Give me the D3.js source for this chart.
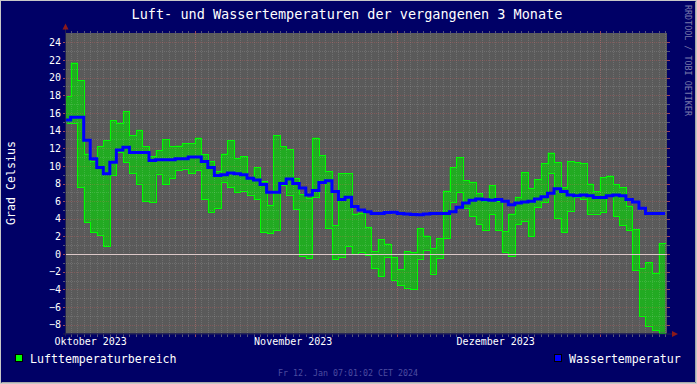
<!DOCTYPE html>
<html>
<head>
<meta charset="utf-8">
<script src="https://cdn.jsdelivr.net/npm/d3@7"></script>
<style>
  body { margin: 0; background: #000066; }
  text { font-family: "DejaVu Sans Mono", monospace; }
</style>
</head>
<body>
<div id="chart"></div>
<script>
// time range of the graph
const startTime = new Date(2023, 9, 12, 7, 1, 2);
const endTime = new Date(2024, 0, 12, 7, 1, 2);

// daily values, first entry is the partial day Oct 12, last one Jan 11
const airMax = [17.9, 21.7, 19.7, 11.4, 10.5, 12.2, 12.9, 15.2, 14.9, 16.2,
  13.5, 14.1, 12.2, 11.1, 11.8, 13.0, 12.2, 12.3, 12.6, 12.6,
  13.2, 11.3, 10.5, 9.4, 11.4, 12.9, 10.9, 11.1, 8.6, 9.85,
  8.3, 5.6, 13.5, 12.2, 11.9, 8.6, 6.8, 6.4, 13.2, 11.2,
  9.4, 3.3, 9.2, 9.2, 4.6, 4.7, 3.1, 0.3, 1.7, 1.2,
  -0.3, -1.7, 0.3, 0.2, 2.9, 2.1, 0.7, 1.8, 7.2, 9.85,
  11.0, 8.4, 8.2, 6.9, 6.0, 7.8, 6.0, 2.6, 4.6, 6.5,
  9.3, 7.5, 8.5, 10.3, 11.5, 10.4, 7.6, 10.5, 10.4, 10.3,
  8.0, 7.1, 8.7, 8.9, 7.9, 7.6, 5.5, 2.8, -1.6, -0.9,
  -2.1, 1.25];
const airMin = [14.9, 14.9, 7.6, 3.6, 2.5, 2.2, 0.9, 9.0, 11.6, 10.4,
  9.2, 8.0, 6.0, 5.9, 9.1, 7.9, 8.6, 9.5, 9.7, 9.2,
  9.5, 6.2, 4.8, 5.2, 8.2, 7.6, 7.0, 7.2, 6.75, 6.2,
  2.5, 2.4, 2.7, 7.8, 6.75, 5.1, -0.2, -0.45, 6.5, 8.1,
  2.9, -0.6, -0.3, 0.9, 0.0, 0.2, -0.1, -1.6, -2.5, -0.3,
  -2.9, -3.5, -3.8, -4.0, -0.5, 0.5, -2.2, -0.45, 1.8, 5.9,
  7.0, 5.2, 4.3, 3.4, 2.75, 4.5, 2.7, 0.2, -0.2, 3.4,
  3.7, 2.0, 5.3, 5.9, 9.2, 4.1, 2.5, 4.9, 6.5, 6.2,
  4.6, 4.6, 4.8, 6.7, 4.3, 3.3, 2.7, -1.85, -7.0, -8.1,
  -8.6, -8.9];
const water = [15.2, 15.5, 15.5, 12.9, 10.8, 9.8, 9.1, 10.4, 11.8, 12.1,
  11.5, 11.5, 11.5, 10.6, 10.7, 10.7, 10.7, 10.8, 10.8, 11.0,
  11.0, 10.5, 9.8, 8.9, 9.0, 9.2, 9.1, 9.0, 8.6, 8.4,
  7.9, 7.0, 7.0, 8.0, 8.5, 8.0, 7.5, 6.7, 7.2, 8.1,
  8.3, 7.1, 6.2, 6.45, 5.4, 5.0, 4.8, 4.6, 4.6, 4.7,
  4.75, 4.6, 4.55, 4.5, 4.45, 4.55, 4.6, 4.6, 4.6, 4.8,
  5.3, 5.8, 6.1, 6.25, 6.15, 6.1, 6.2, 6.0, 5.6, 5.8,
  5.9, 6.0, 6.25, 6.5, 6.9, 7.4, 7.1, 6.7, 6.6, 6.7,
  6.6, 6.4, 6.4, 6.6, 6.7, 6.6, 6.2, 5.9, 5.2, 4.6,
  4.6, 4.6];

const yTickLabels = [-8, -6, -4, -2, 0, 2, 4, 6, 8, 10, 12, 14, 16, 18, 20, 22, 24];
const monthLabels = ["Oktober 2023", "November 2023", "Dezember 2023"];
const monthLabelDates = [new Date(2023, 9, 16), new Date(2023, 10, 16), new Date(2023, 11, 17)];
const majorGridDates = [new Date(2023, 10, 1), new Date(2023, 11, 2), new Date(2024, 0, 2)];

const titleText = "Luft- und Wassertemperaturen der vergangenen 3 Monate";
const legendAir = "Lufttemperaturbereich";
const legendWater = "Wassertemperatur";
const footerText = "Fr 12. Jan 07:01:02 CET 2024";

const W = 697, H = 384;
const plot = { left: 66, right: 667, top: 33.5, bottom: 333.5 };
const minorCol = "rgba(255,255,255,0.13)";
const majorCol = "rgba(255,90,90,0.24)";

const svg = d3.select("#chart").append("svg")
  .attr("width", W)
  .attr("height", H)
  .style("display", "block");

// background + shaded frame
svg.append("rect").attr("width", W).attr("height", H).attr("fill", "#000066");
svg.append("rect").attr("x", 0.5).attr("y", 0.5).attr("width", W - 1).attr("height", H - 1)
  .attr("fill", "none").attr("stroke", "#c8c8c8");
svg.append("path").attr("d", `M1.5,${H - 1.5}H${W - 1.5}V1.5`).attr("stroke", "#a8a8a8").attr("fill", "none");

const x = d3.scaleTime().domain([startTime, endTime]).range([plot.left, plot.right]);
const y = d3.scaleLinear().domain([-9, 25]).range([plot.bottom, plot.top]);

// canvas
svg.append("rect")
  .attr("x", plot.left).attr("y", plot.top - 0.5)
  .attr("width", plot.right - plot.left).attr("height", plot.bottom - plot.top + 0.5)
  .attr("fill", "#5a5a5a");

// build rows: one per day, plus an end point so the last step has width
const dayStarts = [startTime].concat(d3.timeDay.range(new Date(2023, 9, 13), new Date(2024, 0, 12)));
let rows = dayStarts.map((d, i) => ({ date: d, max: airMax[i], min: airMin[i], water: water[i] }));
const last = rows[rows.length - 1];
rows.push({ date: new Date(2024, 0, 12), max: last.max, min: last.min, water: last.water });

// air temperature range
svg.append("path")
  .datum(rows)
  .attr("fill", "#22aa22")
  .attr("stroke", "none")
  .attr("d", d3.area().curve(d3.curveStepAfter)
    .x(d => x(d.date))
    .y0(d => y(d.min))
    .y1(d => y(d.max)));

const grid = svg.append("g").attr("shape-rendering", "crispEdges");

// minor grid: every degree, every day
const minorY = d3.range(-8, 25, 1).filter(v => v % 2 !== 0);
grid.selectAll(".hmin").data(minorY).enter().append("line")
  .attr("x1", plot.left).attr("x2", plot.right)
  .attr("y1", d => Math.round(y(d)) + 0.5).attr("y2", d => Math.round(y(d)) + 0.5)
  .attr("stroke", minorCol).attr("stroke-dasharray", "1,1");

const days = d3.timeDay.range(d3.timeDay.ceil(startTime), endTime);
grid.selectAll(".vmin").data(days).enter().append("line")
  .attr("x1", d => Math.round(x(d)) + 0.5).attr("x2", d => Math.round(x(d)) + 0.5)
  .attr("y1", plot.top).attr("y2", plot.bottom)
  .attr("stroke", minorCol).attr("stroke-dasharray", "1,1");

// major grid
grid.selectAll(".hmaj").data(yTickLabels).enter().append("line")
  .attr("x1", plot.left).attr("x2", plot.right)
  .attr("y1", d => Math.round(y(d)) + 0.5).attr("y2", d => Math.round(y(d)) + 0.5)
  .attr("stroke", majorCol).attr("stroke-dasharray", "1,1");
grid.selectAll(".vmaj").data(majorGridDates).enter().append("line")
  .attr("x1", d => Math.round(x(d)) + 0.5).attr("x2", d => Math.round(x(d)) + 0.5)
  .attr("y1", plot.top).attr("y2", plot.bottom)
  .attr("stroke", majorCol).attr("stroke-dasharray", "1,1");

// little ticks outside the canvas
const ticks = svg.append("g").attr("shape-rendering", "crispEdges");
const tickCol = d => d % 2 === 0 ? "#9a4a5a" : "#55557a";
ticks.selectAll(".tl").data(d3.range(-8, 25, 1)).enter().append("line")
  .attr("x1", plot.left - 3).attr("x2", plot.left)
  .attr("y1", d => Math.round(y(d)) + 0.5).attr("y2", d => Math.round(y(d)) + 0.5)
  .attr("stroke", tickCol);
ticks.selectAll(".tr").data(d3.range(-8, 25, 1)).enter().append("line")
  .attr("x1", plot.right).attr("x2", plot.right + 3)
  .attr("y1", d => Math.round(y(d)) + 0.5).attr("y2", d => Math.round(y(d)) + 0.5)
  .attr("stroke", tickCol);
ticks.selectAll(".tt").data(days).enter().append("line")
  .attr("x1", d => Math.round(x(d)) + 0.5).attr("x2", d => Math.round(x(d)) + 0.5)
  .attr("y1", plot.top - 3).attr("y2", plot.top)
  .attr("stroke", "#55557a");
ticks.selectAll(".tb").data(days).enter().append("line")
  .attr("x1", d => Math.round(x(d)) + 0.5).attr("x2", d => Math.round(x(d)) + 0.5)
  .attr("y1", plot.bottom).attr("y2", plot.bottom + 3)
  .attr("stroke", "#55557a");
ticks.selectAll(".tbm").data(majorGridDates).enter().append("line")
  .attr("x1", d => Math.round(x(d)) + 0.5).attr("x2", d => Math.round(x(d)) + 0.5)
  .attr("y1", plot.bottom).attr("y2", plot.bottom + 3)
  .attr("stroke", "#9a4a5a");
ticks.selectAll(".ttm").data(majorGridDates).enter().append("line")
  .attr("x1", d => Math.round(x(d)) + 0.5).attr("x2", d => Math.round(x(d)) + 0.5)
  .attr("y1", plot.top - 3).attr("y2", plot.top)
  .attr("stroke", "#9a4a5a");

// outline of the range
const stepLine = key => d3.line().curve(d3.curveStepAfter)
  .x(d => Math.round(x(d.date)) + 0.5)
  .y(d => Math.round(y(d[key])) + 0.5);

svg.append("path").datum(rows)
  .attr("fill", "none").attr("stroke", "#00ff00").attr("stroke-width", 1)
  .attr("shape-rendering", "crispEdges")
  .attr("d", stepLine("max"));
svg.append("path").datum(rows)
  .attr("fill", "none").attr("stroke", "#00ff00").attr("stroke-width", 1)
  .attr("shape-rendering", "crispEdges")
  .attr("d", stepLine("min"));

// zero line
svg.append("line")
  .attr("x1", plot.left).attr("x2", plot.right)
  .attr("y1", Math.round(y(0)) + 0.5).attr("y2", Math.round(y(0)) + 0.5)
  .attr("stroke", "#dcc8c8").attr("shape-rendering", "crispEdges");

// water temperature
svg.append("path").datum(rows)
  .attr("fill", "none").attr("stroke", "#0000ff").attr("stroke-width", 3)
  .attr("stroke-linejoin", "miter")
  .attr("d", d3.line().curve(d3.curveStepAfter)
    .x(d => x(d.date))
    .y(d => y(d.water)));

// axis lines and arrows
svg.append("line").attr("x1", plot.left - 0.5).attr("x2", plot.left - 0.5)
  .attr("y1", plot.bottom + 3).attr("y2", plot.top - 5)
  .attr("stroke", "#202050");
svg.append("line").attr("x1", plot.left - 3).attr("x2", plot.right + 5)
  .attr("y1", plot.bottom + 0.5).attr("y2", plot.bottom + 0.5)
  .attr("stroke", "#202050");
svg.append("path").attr("d", `M${plot.left - 3.5},${plot.top - 4}L${plot.left + 2.5},${plot.top - 4}L${plot.left - 0.5},${plot.top - 10}Z`)
  .attr("fill", "#8c1a1a");
svg.append("path").attr("d", `M${plot.right + 5},${plot.bottom - 2.5}L${plot.right + 5},${plot.bottom + 3.5}L${plot.right + 11},${plot.bottom + 0.5}Z`)
  .attr("fill", "#8c1a1a");

// y axis labels
const yAxis = svg.append("g")
  .attr("transform", `translate(${plot.left - 5},0)`)
  .call(d3.axisLeft(y).tickValues(yTickLabels).tickSize(0).tickPadding(0));
yAxis.select(".domain").remove();
yAxis.selectAll("text")
  .attr("fill", "#ffffff")
  .style("font-family", "DejaVu Sans Mono")
  .style("font-size", "10px");

// x axis month labels
const xAxis = svg.append("g")
  .attr("transform", `translate(0,${plot.bottom + 2})`)
  .call(d3.axisBottom(x).tickValues(monthLabelDates).tickSize(0).tickPadding(2)
    .tickFormat((d, i) => monthLabels[i]));
xAxis.select(".domain").remove();
xAxis.selectAll("text")
  .attr("fill", "#ffffff")
  .style("font-family", "DejaVu Sans Mono")
  .style("font-size", "10px");

// title
svg.append("text")
  .attr("x", 347).attr("y", 18.5)
  .attr("text-anchor", "middle")
  .attr("fill", "#ffffff")
  .style("font-size", "13.5px")
  .text(titleText);

// y axis title
svg.append("text")
  .attr("transform", "translate(15,183) rotate(-90)")
  .attr("text-anchor", "middle")
  .attr("fill", "#ffffff")
  .style("font-size", "11.6px")
  .text("Grad Celsius");

// watermark on the right side
svg.append("text")
  .attr("transform", "translate(685,5) rotate(90)")
  .attr("fill", "#7a7aaa")
  .style("font-size", "8.4px")
  .text("RRDTOOL / TOBI OETIKER");

// legend
svg.append("rect").attr("x", 15.5).attr("y", 354.5).attr("width", 7).attr("height", 7)
  .attr("fill", "#00ff00").attr("stroke", "#000000");
svg.append("text").attr("x", 30).attr("y", 363)
  .attr("fill", "#ffffff").style("font-size", "11.6px").text(legendAir);
svg.append("rect").attr("x", 554.5).attr("y", 354.5).attr("width", 7).attr("height", 7)
  .attr("fill", "#0000ff").attr("stroke", "#000000");
svg.append("text").attr("x", 569).attr("y", 363)
  .attr("fill", "#ffffff").style("font-size", "11.6px").text(legendWater);

// footer
svg.append("text")
  .attr("x", 348).attr("y", 376)
  .attr("text-anchor", "middle")
  .attr("fill", "#4d4da0")
  .style("font-size", "8.3px")
  .text(footerText);
</script>
</body>
</html>
